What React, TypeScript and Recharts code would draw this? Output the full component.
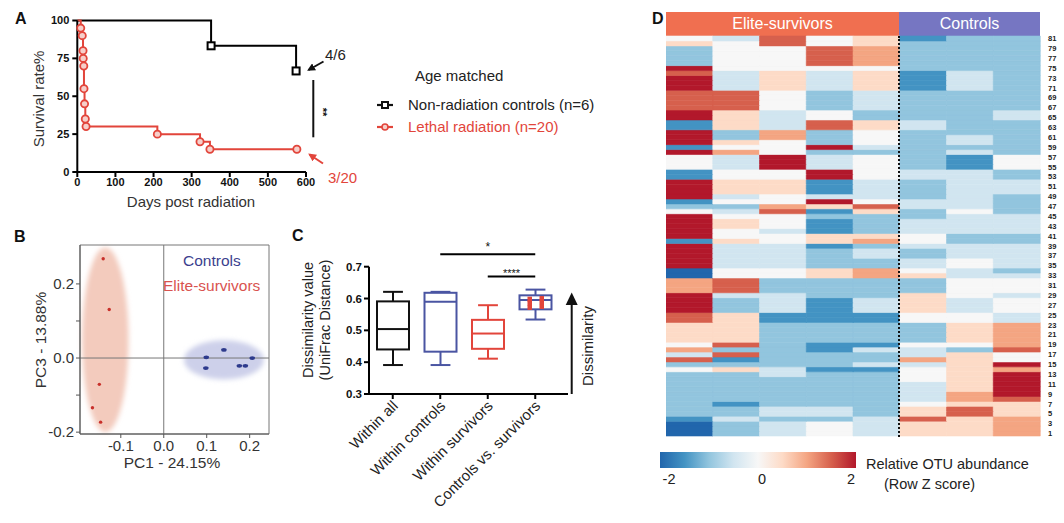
import React from 'react';
import {
  LineChart,
  Line,
  XAxis,
  YAxis,
  ScatterChart,
  Scatter,
  ReferenceLine,
  ReferenceArea,
  BarChart,
  Bar,
  Cell,
} from 'recharts';

const FONT = '"Liberation Sans", Arial, Helvetica, sans-serif';
const RED = '#e2453b';
const NAVY = '#3b3f8e';

// ---- A: survival ----
const controlSurvival = [
  { day: 0, pct: 100 },
  { day: 351, pct: 83.3 },
  { day: 574, pct: 66.7 },
];
const radiationSurvival = [
  { day: 0, pct: 100 },
  { day: 9, pct: 95 },
  { day: 13, pct: 90 },
  { day: 15, pct: 80 },
  { day: 15.5, pct: 75 },
  { day: 17, pct: 70 },
  { day: 17.5, pct: 55 },
  { day: 19, pct: 45 },
  { day: 21, pct: 35 },
  { day: 23, pct: 30 },
  { day: 210, pct: 25 },
  { day: 322, pct: 20 },
  { day: 348, pct: 15 },
  { day: 576, pct: 15 },
];
const dayTicks = [0, 100, 200, 300, 400, 500, 600];
const pctTicks = [0, 25, 50, 75, 100];

// ---- B: PCoA ----
const survivorPoints = [
  { x: -0.141, y: 0.268 },
  { x: -0.127, y: 0.131 },
  { x: -0.15, y: -0.071 },
  { x: -0.166, y: -0.134 },
  { x: -0.147, y: -0.173 },
];
const controlPoints = [
  { x: 0.099, y: 0.002 },
  { x: 0.098, y: -0.027 },
  { x: 0.14, y: 0.022 },
  { x: 0.176, y: -0.021 },
  { x: 0.19, y: -0.021 },
  { x: 0.206, y: 0.0 },
];
const pcXTicks = [-0.1, 0, 0.1, 0.2];
const pcYTicks = [-0.2, -0.1, 0, 0.1, 0.2];

// ---- C: dissimilarity boxes ----
const groups = ['Within all', 'Within controls', 'Within survivors', 'Controls vs. survivors'];
const boxMin = [0.391, 0.391, 0.411, 0.534];
const boxQ1 = [0.44, 0.433, 0.442, 0.566];
const boxMedian = [0.504, 0.59, 0.49, 0.595];
const boxQ3 = [0.591, 0.618, 0.533, 0.61];
const boxMax = [0.621, 0.621, 0.579, 0.628];
const boxColors = ['#111111', '#4a55a2', '#e2453b', '#4a55a2'];
const crossPoints = [0.572, 0.575, 0.586, 0.59, 0.598, 0.6];
const dissTicks = [0.3, 0.4, 0.5, 0.6, 0.7];

// ---- D: heatmap, levels -4..4, row 81 first ----
const PALETTE = ['#2166ac', '#4393c3', '#92c5de', '#d1e5f0', '#f7f7f7', '#fddbc7', '#f4a582', '#d6604d', '#b2182b'];
const elite1 = [0,1,-2,-2,-2,-2,4,3,4,4, 4,3,3,3,3,4,4,-3,-3,4, 4,4,-3,4,0,0,0,-3,-3,4, 4,4,4,-3,-2,0,4,4,4,4, 4,-3,4,4,4,4,4,-4,-4,2, 2,2,4,4,4,4,3,3,1,1, 1,1,0,2,-1,3,-2,0,-2,-2, -2,-2,-2,-2,-2,-2,-2,-3,-4,-4, -4];
const elite2 = [-1,0,0,0,0,0,0,-1,-1,-1, -1,3,3,3,3,1,1,1,1,-2, -2,1,0,2,-1,-1,-1,0,0,1, 1,1,-1,0,-2,-1,0,1,1,0, 0,1,-1,-1,-1,-1,-1,0,0,3, 3,3,-1,-2,-2,-2,1,1,1,1, 1,1,3,-2,3,-3,-2,1,-2,-2, -2,-2,-2,-2,-3,-2,-2,-1,-2,-2, -2];
const elite3 = [3,3,0,0,0,0,0,1,1,1, 1,0,0,0,0,-1,-1,-1,-1,2, 2,0,0,0,4,4,4,0,0,1, 1,1,0,0,2,3,0,0,0,-1, 0,0,-1,-1,-1,-1,-1,0,0,-2, -2,-2,-1,-1,-1,-1,-3,-3,-2,-2, -2,-2,-2,-2,-2,-2,-2,-1,-1,-2, -2,-2,-2,-2,-2,-1,-1,-2,-1,-1, -1];
const elite4 = [0,0,3,3,3,3,0,-1,-1,-1, -1,-2,-2,-2,-2,0,0,3,3,-2, -2,-2,4,-2,-1,-1,-1,4,4,-3, -3,-3,-1,4,1,-3,-2,-3,-3,-3, 1,1,-3,-2,-2,-2,-2,1,1,-2, -2,-2,-2,-3,-3,-3,-3,-3,-2,-2, -2,-2,-3,-3,-2,-2,-2,-3,-2,-2, -2,-2,-2,-2,-2,-1,-1,-2,0,0, 0];
const elite5 = [1,1,2,2,2,2,0,1,1,1, 1,-1,-1,-1,-1,-2,-2,1,1,0, 0,0,-1,-2,0,0,0,0,0,-1, -1,-1,-1,0,3,1,-2,-2,-2,-2, 1,2,-2,-1,-1,-2,-2,2,2,-2, -2,-2,-2,-1,-1,-1,-3,-3,-2,-2, -2,-2,-3,-1,-2,-2,-1,-3,-2,-2, -2,-2,-2,-2,-2,-2,-2,-1,-1,-1, -1];
const control1 = [-3,-2,-2,-2,-2,-2,-2,-3,-3,-3, -3,-2,-2,-2,-2,-2,-2,-1,-1,-2, -2,-2,-2,-2,-2,-2,-2,-1,-1,-2, -2,-2,-2,-1,-1,-2,-2,-1,-1,-1, 0,0,-1,-2,-2,-1,-1,0,1,-2, -2,-2,1,1,1,1,0,0,-2,-2, -2,-2,0,-1,-1,2,-1,0,0,0, -1,-1,-1,-1,0,1,1,3,1,1, 1];
const control2 = [-2,-2,-2,-2,-2,-2,-2,-1,-1,-1, -1,-2,-2,-2,-2,-2,-2,-2,-2,-2, -1,-1,-2,-1,-3,-3,-3,-1,-1,-1, -1,-1,-1,-1,-1,0,-1,-1,-1,-1, -2,-2,-1,-1,-1,0,0,-1,-1,0, 0,0,0,-1,-1,-1,0,0,1,1, 1,1,0,-2,1,1,1,1,1,1, 1,1,2,2,1,3,3,1,1,1, 1];
const control3 = [-2,-2,-2,-2,-2,-2,-2,-2,-2,-2, -2,-2,-2,-2,-2,-1,-1,-2,-2,-2, -2,-2,-2,-2,0,0,0,-2,-2,-1, -1,-1,-2,-2,-2,-2,-1,-1,-1,-1, -2,-2,-1,-1,-1,-1,-1,-2,-1,0, 0,0,-1,0,0,0,-1,-1,2,2, 2,2,2,3,0,0,4,2,4,4, 4,4,4,3,1,1,1,2,2,2, 2];
const heatColumns = [elite1, elite2, elite3, elite4, elite5, control1, control2, control3];
const heatColumnNames = ['E1', 'E2', 'E3', 'E4', 'E5', 'C1', 'C2', 'C3'];
const rowCount = 81;
const rowIds = Array.from({ length: rowCount }, (_, i) => i + 1);
const rowTicks = rowIds.filter((r) => r % 2 === 1).map((r) => r - 0.5);
const heatData = heatColumnNames.map((name) => {
  const d: Record<string, any> = { name };
  rowIds.forEach((r) => (d[`r${r}`] = 1));
  return d;
});
const levelColor = (col: number, row: number) => PALETTE[heatColumns[col][rowCount - row] + 4];

const boxData = groups.map((name, i) => ({
  name,
  range: [boxMin[i], boxMax[i]],
  min: boxMin[i],
  q1: boxQ1[i],
  median: boxMedian[i],
  q3: boxQ3[i],
  max: boxMax[i],
  color: boxColors[i],
  pts: i === 3 ? crossPoints : [],
}));

const redDot = (props: any) => {
  const { cx, cy, index } = props;
  if (index === 0 || cx == null) return <g key={`rd-${index}`} />;
  return <circle key={`rd-${index}`} cx={cx} cy={cy} r={3.6} fill="#f6cfca" stroke={RED} strokeWidth={1.8} />;
};

const blackDot = (props: any) => {
  const { cx, cy, index } = props;
  if (index === 0 || cx == null) return <g key={`bd-${index}`} />;
  return (
    <rect key={`bd-${index}`} x={cx - 3.5} y={cy - 3.5} width={7} height={7} fill="#fff" stroke="#000" strokeWidth={2} />
  );
};

const BoxShape = (props: any) => {
  const { x, y, width, height, payload } = props;
  if (x == null || !payload) return null;
  const top = Math.min(y, y + height);
  const h = Math.abs(height);
  const span = payload.max - payload.min;
  const py = (v: number) => top + (h * (payload.max - v)) / span;
  const cx = x + width / 2;
  const cap = width * 0.62;
  const c = payload.color;
  return (
    <g fill="none" stroke={c} strokeWidth={2}>
      <line x1={cx} x2={cx} y1={py(payload.max)} y2={py(payload.q3)} />
      <line x1={cx} x2={cx} y1={py(payload.q1)} y2={py(payload.min)} />
      <line x1={cx - cap / 2} x2={cx + cap / 2} y1={py(payload.max)} y2={py(payload.max)} />
      <line x1={cx - cap / 2} x2={cx + cap / 2} y1={py(payload.min)} y2={py(payload.min)} />
      <rect x={x} y={py(payload.q3)} width={width} height={py(payload.q1) - py(payload.q3)} fill="#fff" />
      <line x1={x} x2={x + width} y1={py(payload.median)} y2={py(payload.median)} />
      {payload.pts.map((v: number, i: number) => (
        <rect
          key={i}
          x={cx + (i % 2 === 0 ? -8 : 4)}
          y={py(v) - 2.5}
          width={4.5}
          height={5}
          fill={RED}
          stroke="none"
        />
      ))}
    </g>
  );
};

const SlantTick = ({ x, y, payload }: any) => (
  <text
    x={x + 6}
    y={y + 6}
    transform={`rotate(-45 ${x + 6} ${y + 6})`}
    textAnchor="end"
    fontSize={15}
    fill="#222"
    fontFamily={FONT}
  >
    {payload.value}
  </text>
);

const ellipseShape = (fill: string, id: string) => (props: any) => {
  const { x, y, width, height } = props;
  if (x == null) return null;
  return (
    <g>
      <defs>
        <filter id={id} x="-20%" y="-20%" width="140%" height="140%">
          <feGaussianBlur stdDeviation="2.5" />
        </filter>
      </defs>
      <ellipse cx={x + width / 2} cy={y + height / 2} rx={width / 2} ry={height / 2} fill={fill} filter={`url(#${id})`} />
    </g>
  );
};

const boldTick = { fontSize: 11, fontWeight: 700, fill: '#111', fontFamily: FONT };
const pcTick = { fontSize: 15, fill: '#333', fontFamily: FONT };

export default function App() {
  return (
    <div
      style={{
        position: 'absolute',
        left: 0,
        top: 0,
        width: 1064,
        height: 523,
        background: '#fff',
        overflow: 'hidden',
        fontFamily: FONT,
      }}
    >
      {/* A */}
      <div style={{ position: 'absolute', left: 0, top: 0 }}>
        <LineChart width={330} height={215} margin={{ top: 20.5, right: 24, bottom: 13, left: 37.3 }}>
          <XAxis
            type="number"
            dataKey="day"
            domain={[0, 600]}
            ticks={dayTicks}
            height={30}
            tick={boldTick}
            tickSize={5}
            tickMargin={1}
            axisLine={{ stroke: '#000', strokeWidth: 2 }}
            tickLine={{ stroke: '#000', strokeWidth: 2 }}
          />
          <YAxis
            type="number"
            domain={[0, 100]}
            ticks={pctTicks}
            width={40}
            tick={boldTick}
            tickSize={5}
            tickMargin={3}
            axisLine={{ stroke: '#000', strokeWidth: 2 }}
            tickLine={{ stroke: '#000', strokeWidth: 2 }}
          />
          <Line
            data={controlSurvival}
            dataKey="pct"
            type="stepAfter"
            stroke="#000"
            strokeWidth={2}
            dot={blackDot}
            isAnimationActive={false}
          />
          <Line
            data={radiationSurvival}
            dataKey="pct"
            type="stepAfter"
            stroke={RED}
            strokeWidth={2}
            dot={redDot}
            isAnimationActive={false}
          />
        </LineChart>
      </div>

      {/* B */}
      <div style={{ position: 'absolute', left: 0, top: 225 }}>
        <ScatterChart width={290} height={260} margin={{ top: 20, right: 21, bottom: 21, left: 40 }}>
          <XAxis
            type="number"
            dataKey="x"
            domain={[-0.195, 0.245]}
            ticks={pcXTicks}
            allowDataOverflow
            tickFormatter={(v) => v.toFixed(1)}
            tick={pcTick}
            height={30}
            tickSize={4}
            tickMargin={2}
            axisLine={{ stroke: '#555' }}
            tickLine={{ stroke: '#555' }}
          />
          <YAxis
            type="number"
            dataKey="y"
            domain={[-0.205, 0.305]}
            ticks={pcYTicks}
            allowDataOverflow
            tickFormatter={(v) => (Math.abs(v * 10) % 2 < 0.01 ? v.toFixed(1) : '')}
            tick={pcTick}
            width={40}
            tickSize={4}
            tickMargin={2}
            axisLine={{ stroke: '#555' }}
            tickLine={{ stroke: '#555' }}
          />
          <ReferenceArea
            x1={-0.19}
            x2={-0.082}
            y1={-0.2}
            y2={0.298}
            shape={ellipseShape('#f3cbbd', 'blurRed')}
            ifOverflow="visible"
          />
          <ReferenceArea
            x1={0.047}
            x2={0.233}
            y1={-0.058}
            y2={0.048}
            shape={ellipseShape('#cdd0ea', 'blurBlue')}
            ifOverflow="visible"
          />
          <ReferenceArea
            x1={-0.195}
            x2={0.245}
            y1={-0.205}
            y2={0.305}
            fill="none"
            stroke="#777"
            strokeWidth={1}
            ifOverflow="visible"
          />
          <ReferenceLine x={0} stroke="#777" strokeWidth={1} />
          <ReferenceLine y={0} stroke="#777" strokeWidth={1} />
          <Scatter
            data={survivorPoints}
            isAnimationActive={false}
            shape={(p: any) => <circle cx={p.cx} cy={p.cy} r={1.7} fill="#c8302a" />}
          />
          <Scatter
            data={controlPoints}
            isAnimationActive={false}
            shape={(p: any) => <ellipse cx={p.cx} cy={p.cy} rx={2.8} ry={1.9} fill="#2d3a8c" />}
          />
        </ScatterChart>
      </div>

      {/* C */}
      <div style={{ position: 'absolute', left: 290, top: 240 }}>
        <BarChart
          width={290}
          height={283}
          data={boxData}
          margin={{ top: 26.7, right: 12, bottom: 9, left: 39 }}
          barCategoryGap={0}
        >
          <XAxis
            dataKey="name"
            height={120}
            interval={0}
            padding={{ left: 0, right: 9 }}
            tick={<SlantTick />}
            tickSize={5}
            tickMargin={2}
            axisLine={{ stroke: '#000', strokeWidth: 2 }}
            tickLine={{ stroke: '#000', strokeWidth: 2 }}
          />
          <YAxis
            type="number"
            domain={[0.3, 0.7]}
            ticks={dissTicks}
            tickFormatter={(v) => v.toFixed(1)}
            width={40}
            tick={{ ...boldTick, fontSize: 11.5 }}
            tickSize={5}
            tickMargin={2}
            axisLine={{ stroke: '#000', strokeWidth: 2 }}
            tickLine={{ stroke: '#000', strokeWidth: 2 }}
          />
          <Bar dataKey="range" barSize={32} shape={<BoxShape />} isAnimationActive={false} />
          <ReferenceLine
            segment={[
              { x: 'Within controls', y: 0.739 },
              { x: 'Controls vs. survivors', y: 0.739 },
            ]}
            stroke="#000"
            strokeWidth={2}
            ifOverflow="visible"
            label={{ value: '*', position: 'top', offset: 3, fontSize: 12, fill: '#111' }}
          />
          <ReferenceLine
            segment={[
              { x: 'Within survivors', y: 0.669 },
              { x: 'Controls vs. survivors', y: 0.669 },
            ]}
            stroke="#000"
            strokeWidth={2}
            ifOverflow="visible"
            label={{ value: '****', position: 'top', offset: 0, fontSize: 11, fill: '#111' }}
          />
        </BarChart>
      </div>

      {/* D header */}
      <div
        style={{
          position: 'absolute',
          left: 666,
          top: 12,
          width: 233,
          height: 24,
          background: '#f06f50',
          color: '#fff',
          fontSize: 16,
          lineHeight: '24px',
          textAlign: 'center',
        }}
      >
        Elite-survivors
      </div>
      <div
        style={{
          position: 'absolute',
          left: 899,
          top: 12,
          width: 141,
          height: 24,
          background: '#7676c2',
          color: '#fff',
          fontSize: 16,
          lineHeight: '24px',
          textAlign: 'center',
        }}
      >
        Controls
      </div>

      {/* D heatmap */}
      <div style={{ position: 'absolute', left: 666, top: 30 }}>
        <BarChart
          width={396}
          height={412}
          data={heatData}
          margin={{ top: 6, right: 0, bottom: 6, left: 0 }}
          barCategoryGap={0}
          barGap={0}
        >
          <XAxis dataKey="name" hide />
          <YAxis
            type="number"
            orientation="right"
            domain={[0, rowCount]}
            ticks={rowTicks}
            interval={0}
            tickFormatter={(v) => String(v + 0.5)}
            width={22}
            axisLine={false}
            tickLine={false}
            tickMargin={2}
            tick={{ fontSize: 7.5, fontWeight: 700, fill: '#222', fontFamily: FONT }}
          />
          {rowIds.map((r) => (
            <Bar key={r} dataKey={`r${r}`} stackId="heat" isAnimationActive={false}>
              {heatColumnNames.map((n, c) => (
                <Cell key={n} fill={levelColor(c, r)} stroke={levelColor(c, r)} strokeWidth={0.6} />
              ))}
            </Bar>
          ))}
        </BarChart>
      </div>
      <div
        style={{
          position: 'absolute',
          left: 898,
          top: 36,
          width: 0,
          height: 401,
          borderLeft: '2px dotted #111',
        }}
      />

      {/* colour bar */}
      <div
        style={{
          position: 'absolute',
          left: 660,
          top: 452,
          width: 196,
          height: 16,
          background: `linear-gradient(to right, ${PALETTE.join(', ')})`,
        }}
      />

      {/* text and annotations */}
      <svg
        width={1064}
        height={523}
        style={{ position: 'absolute', left: 0, top: 0, pointerEvents: 'none' }}
        fontFamily={FONT}
      >
        <defs>
          <marker id="headBlack" viewBox="0 0 10 10" refX="8" refY="5" markerWidth="4" markerHeight="4" orient="auto">
            <path d="M0,0 L10,5 L0,10 z" fill="#111" />
          </marker>
          <marker id="headRed" viewBox="0 0 10 10" refX="8" refY="5" markerWidth="4" markerHeight="4" orient="auto">
            <path d="M0,0 L10,5 L0,10 z" fill={RED} />
          </marker>
        </defs>

        {/* panel letters */}
        <text x={15} y={23.5} fontSize={16} fontWeight={700} fill="#111">A</text>
        <text x={14} y={242} fontSize={16} fontWeight={700} fill="#111">B</text>
        <text x={292} y={241} fontSize={16} fontWeight={700} fill="#111">C</text>
        <text x={652} y={24} fontSize={16} fontWeight={700} fill="#111">D</text>

        {/* A titles */}
        <text transform="translate(44 99) rotate(-90)" textAnchor="middle" fontSize={15} fill="#333">
          Survival rate%
        </text>
        <text x={191} y={207} textAnchor="middle" fontSize={15} fill="#333">
          Days post radiation
        </text>
        <text x={325} y={60} fontSize={15} fill="#222">4/6</text>
        <text x={328} y={183} fontSize={15} fill={RED}>3/20</text>
        <line x1={323.5} y1={61.5} x2={308.5} y2={70} stroke="#111" strokeWidth={2} markerEnd="url(#headBlack)" />
        <line x1={323} y1={163.5} x2={309.5} y2={154.5} stroke={RED} strokeWidth={2} markerEnd="url(#headRed)" />
        <line x1={313.3} y1={80} x2={313.3} y2={137.3} stroke="#111" strokeWidth={2} />
        <text transform="translate(319 112) rotate(90)" textAnchor="middle" fontSize={11} fontWeight={700} fill="#111">
          **
        </text>

        {/* A legend */}
        <text x={415} y={81} fontSize={15} fill="#222">Age matched</text>
        <line x1={377} y1={105} x2={393} y2={105} stroke="#111" strokeWidth={2.2} />
        <rect x={382} y={102} width={6} height={6} fill="#fff" stroke="#111" strokeWidth={2} />
        <text x={408} y={110} fontSize={15} fill="#222">Non-radiation controls (n=6)</text>
        <line x1={377} y1={127} x2={393} y2={127} stroke={RED} strokeWidth={2.2} />
        <circle cx={385} cy={127} r={3} fill="#f6cfca" stroke={RED} strokeWidth={1.6} />
        <text x={408} y={132} fontSize={15} fill={RED}>Lethal radiation (n=20)</text>

        {/* B labels */}
        <text x={183} y={266} fontSize={15.5} fill={NAVY}>Controls</text>
        <text x={163} y={290.5} fontSize={15.5} fill="#d9534f">Elite-survivors</text>
        <text transform="translate(46 340) rotate(-90)" textAnchor="middle" fontSize={15.5} fill="#333">
          PC3 - 13.88%
        </text>
        <text x={172} y={468} textAnchor="middle" fontSize={15.5} fill="#333">
          PC1 - 24.15%
        </text>

        {/* C labels */}
        <text transform="translate(313 320) rotate(-90)" textAnchor="middle" fontSize={14.5} fill="#222">
          Dissimilarity value
        </text>
        <text transform="translate(329.5 320) rotate(-90)" textAnchor="middle" fontSize={14.5} fill="#222">
          (UniFrac Distance)
        </text>
        <line x1={571.7} y1={394} x2={571.7} y2={302} stroke="#111" strokeWidth={2} />
        <path d="M565.7,305 L571.7,292.5 L577.7,305 z" fill="#111" />
        <text transform="translate(593 346) rotate(-90)" textAnchor="middle" fontSize={15} fill="#222">
          Dissimilarity
        </text>

        {/* D colour bar labels */}
        <text x={669} y={484} textAnchor="middle" fontSize={14.5} fill="#222">-2</text>
        <text x={762} y={484} textAnchor="middle" fontSize={14.5} fill="#222">0</text>
        <text x={851} y={484} textAnchor="middle" fontSize={14.5} fill="#222">2</text>
        <text x={866} y={469} fontSize={14.5} fill="#222">Relative OTU abundance</text>
        <text x={884} y={489} fontSize={14.5} fill="#222">(Row Z score)</text>
      </svg>
    </div>
  );
}
